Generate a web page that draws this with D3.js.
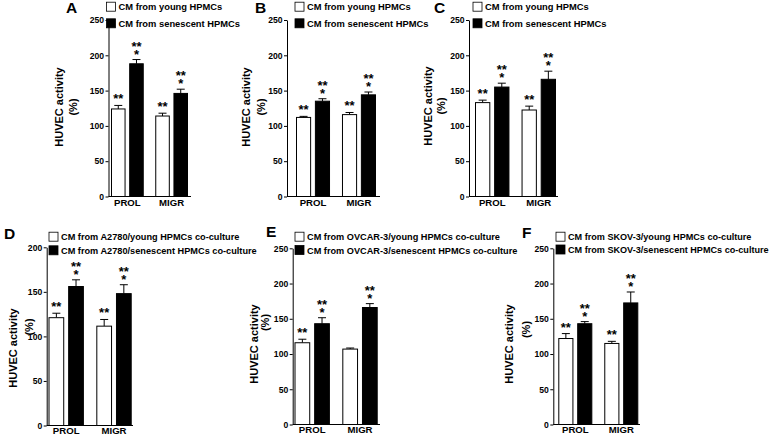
<!DOCTYPE html>
<html>
<head>
<meta charset="utf-8">
<script src="https://cdn.jsdelivr.net/npm/d3@7"></script>
<style>
  html, body { margin: 0; padding: 0; background: #fff; }
  svg { display: block; }
  text { font-family: "Liberation Sans", Arial, sans-serif; font-weight: bold; fill: #000; }
</style>
</head>
<body>
<svg id="chart" width="773" height="435"></svg>
<script>
// ---------------- DATA ----------------
const panelIds = ["A", "B", "C", "D", "E", "F"];
const categories = ["PROL", "MIGR"];
const youngMean = [[124, 114], [112, 116], [133, 122.5], [121, 111.5], [116, 107], [122, 115]];
const youngErr  = [[5, 4], [1.5, 3], [3.5, 5.5], [5, 7.5], [5, 1.5], [7, 3]];
const senMean   = [[188, 146], [135, 144], [155, 166], [156, 148], [143, 166], [143, 172.5]];
const senErr    = [[6, 6], [3.5, 4], [5.5, 11.5], [7.5, 10], [8.5, 5.5], [3, 15.5]];
const youngStars = [["**", "**"], ["**", "**"], ["**", "**"], ["**", "**"], ["**", ""], ["**", "**"]];
const senStars   = [["**|*", "**|*"], ["**|*", "**|*"], ["**|*", "**|*"], ["**|*", "**|*"], ["**|*", "**|*"], ["**|*", "**|*"]];
const yMaxes = [250, 250, 250, 200, 250, 250];
const tickLists = [
  [0, 50, 100, 150, 200, 250], [0, 50, 100, 150, 200, 250], [0, 50, 100, 150, 200, 250],
  [0, 50, 100, 150, 200], [0, 50, 100, 150, 200, 250], [0, 50, 100, 150, 200, 250]
];
const legendYoung = [
  "CM from young HPMCs", "CM from young HPMCs", "CM from young HPMCs",
  "CM from A2780/young HPMCs co-culture", "CM from OVCAR-3/young HPMCs co-culture", "CM from SKOV-3/young HPMCs co-culture"
];
const legendSen = [
  "CM from senescent HPMCs", "CM from senescent HPMCs", "CM from senescent HPMCs",
  "CM from A2780/senescent HPMCs co-culture", "CM from OVCAR-3/senescent HPMCs co-culture", "CM from SKOV-3/senescent HPMCs co-culture"
];
const yTitle = "HUVEC activity";
const yUnit = "(%)";

// ---------------- LAYOUT ----------------
const layout = [
  { ax: 108.5, axEnd: 191, b0: 111, b1: 188, yTop: 20, yBot: 196.5, letter: [66, 12.5], leg: [106, 1.7, 18.3], legFs: 9.35, hx: 63, hy: 107, px: 77, py: 107, xPad: 2.6 },
  { ax: 287, axEnd: 380, b0: 296, b1: 376, yTop: 20, yBot: 196.5, letter: [255, 12.5], leg: [294.5, 1.7, 18.3], legFs: 9.35, hx: 250, hy: 107, px: 265, py: 107, xPad: 2.6 },
  { ax: 469, axEnd: 558, b0: 475, b1: 556, yTop: 20, yBot: 196.5, letter: [434, 12.5], leg: [472.5, 1.7, 18.3], legFs: 9.35, hx: 432, hy: 106, px: 445, py: 106, xPad: 2.6 },
  { ax: 46.7, axEnd: 133, b0: 48.5, b1: 131.7, yTop: 247.3, yBot: 425.5, letter: [4, 238.5], leg: [48.5, 231.7, 245.3], legFs: 9.2, hx: 16.5, hy: 348, px: 33, py: 327, xPad: 1.2 },
  { ax: 292.7, axEnd: 380, b0: 294.5, b1: 377.7, yTop: 248.3, yBot: 424.5, letter: [266, 237], leg: [294.5, 231.7, 245], legFs: 9.2, hx: 258, hy: 344, px: 269, py: 322.5, xPad: 1.6 },
  { ax: 553.3, axEnd: 640, b0: 558.3, b1: 638.3, yTop: 248.3, yBot: 424.5, letter: [522, 238], leg: [555.5, 231.7, 244.5], legFs: 9.1, hx: 513, hy: 344, px: 530, py: 329.5, xPad: 1.6 }
];

const svg = d3.select("#chart");
const FONT = '"Liberation Sans", Arial, sans-serif';

panelIds.forEach((id, i) => {
  const L = layout[i];
  const g = svg.append("g");

  const y = d3.scaleLinear().domain([0, yMaxes[i]]).range([L.yBot, L.yTop]);
  const x0 = d3.scaleBand().domain(categories).range([L.b0, L.b1]).paddingInner(0.26).paddingOuter(0);
  const x1 = d3.scaleBand().domain(["young", "sen"]).range([0, x0.bandwidth()]).paddingInner(0.2).paddingOuter(0);

  // Y axis
  const yAxis = d3.axisLeft(y).tickValues(tickLists[i]).tickSize(3).tickSizeOuter(0).tickPadding(1.5);
  const ya = g.append("g").attr("transform", `translate(${L.ax},0)`).call(yAxis);
  ya.select(".domain").attr("stroke", "#000").attr("stroke-width", 1);
  ya.selectAll(".tick line").attr("stroke", "#000");
  ya.selectAll(".tick text").attr("font-size", 8.6).attr("font-weight", "bold")
    .attr("font-family", FONT).attr("fill", "#000");

  // X axis baseline
  g.append("line").attr("x1", L.ax).attr("x2", L.axEnd).attr("y1", y(0)).attr("y2", y(0))
    .attr("stroke", "#000").attr("stroke-width", 1);
  const xAxis = d3.axisBottom(x0).tickSize(0).tickPadding(L.xPad);
  const xa = g.append("g").attr("transform", `translate(0,${y(0)})`).call(xAxis);
  xa.select(".domain").remove();
  xa.selectAll(".tick text").attr("font-size", 9.6).attr("font-weight", "bold")
    .attr("font-family", FONT).attr("fill", "#000");

  // Bars
  const rows = categories.map((c, k) => [
    { cat: c, s: "young", v: youngMean[i][k], e: youngErr[i][k], stars: youngStars[i][k] },
    { cat: c, s: "sen", v: senMean[i][k], e: senErr[i][k], stars: senStars[i][k] }
  ]).flat();

  rows.forEach(d => {
    const bx = x0(d.cat) + x1(d.s);
    const bw = x1.bandwidth();
    const cx = bx + bw / 2;
    const topE = y(d.v + d.e);
    // error bar
    g.append("line").attr("x1", cx).attr("x2", cx).attr("y1", y(d.v)).attr("y2", topE)
      .attr("stroke", "#000").attr("stroke-width", 1);
    g.append("line").attr("x1", cx - 4).attr("x2", cx + 4).attr("y1", topE).attr("y2", topE)
      .attr("stroke", "#000").attr("stroke-width", 1);
    g.append("rect").attr("x", bx + 0.5).attr("y", y(d.v)).attr("width", bw - 1).attr("height", y(0) - y(d.v))
      .attr("fill", d.s === "young" ? "#fff" : "#000").attr("stroke", "#000").attr("stroke-width", 1);
    if (d.stars) {
      const parts = d.stars.split("|");
      if (parts.length === 1) {
        g.append("text").attr("x", cx).attr("y", topE - 2)
          .attr("text-anchor", "middle").attr("font-size", 13).text(parts[0]);
      } else {
        const t = g.append("text").attr("text-anchor", "middle").attr("font-size", 13);
        t.append("tspan").attr("x", cx).attr("y", topE - 9).text(parts[0]);
        t.append("tspan").attr("x", cx).attr("y", topE - 0.7).text(parts[1]);
      }
    }
  });

  // Panel letter
  g.append("text").attr("x", L.letter[0]).attr("y", L.letter[1]).attr("font-size", 15.5).text(id);

  // Legend
  const sq = 9;
  [[legendYoung[i], "#fff", L.leg[1]], [legendSen[i], "#000", L.leg[2]]].forEach(([t, f, yy]) => {
    g.append("rect").attr("x", L.leg[0] + 0.5).attr("y", yy + 0.5).attr("width", sq).attr("height", sq)
      .attr("fill", f).attr("stroke", "#000").attr("stroke-width", 0.8);
    g.append("text").attr("x", L.leg[0] + sq + 3.5).attr("y", yy + sq - 0.5)
      .attr("font-size", L.legFs).text(t);
  });

  // Y title
  g.append("text").attr("transform", `translate(${L.hx},${L.hy}) rotate(-90)`)
    .attr("text-anchor", "middle").attr("font-size", 11).text(yTitle);
  g.append("text").attr("transform", `translate(${L.px},${L.py}) rotate(-90)`)
    .attr("text-anchor", "middle").attr("font-size", 11).text(yUnit);
});
</script>
</body>
</html>
